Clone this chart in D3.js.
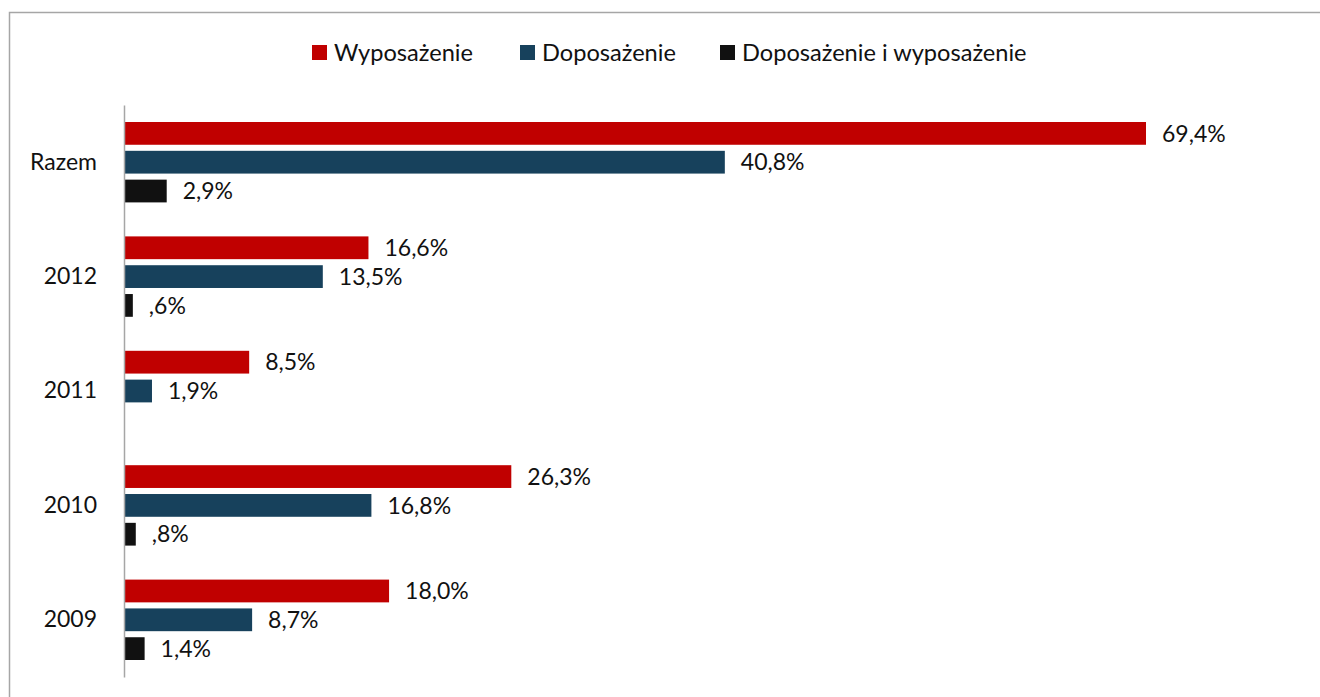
<!DOCTYPE html>
<html><head><meta charset="utf-8">
<script src="https://cdn.jsdelivr.net/npm/d3@7"></script>
<style>body{margin:0;background:#fff}svg{display:block}text{font-family:Lato,"Open Sans",sans-serif}</style>
</head><body><svg id="c" width="1320" height="697"></svg>
<script>
const categories = ["Razem","2012","2011","2010","2009"];
const seriesNames = ["Wyposażenie","Doposażenie","Doposażenie i wyposażenie"];
const wyposazenie = [69.4,16.6,8.5,26.3,18.0];
const doposazenie = [40.8,13.5,1.9,16.8,8.7];
const obie = [2.9,0.6,null,0.8,1.4];
const colors = ["#C00000","#17415C","#111111"];
const seriesValues = [wyposazenie, doposazenie, obie];
const FS = 23;

const svg = d3.select("#c");
svg.append("rect").attr("x",9.5).attr("y",12.5).attr("width",1400).attr("height",800)
  .attr("fill","none").attr("stroke","#a6a6a6").attr("stroke-width",1.5);

const x = d3.scaleLinear().domain([0,80]).range([124,124+80*1022/69.4]);
const y0 = d3.scaleBand().domain(categories).range([105,677]);
const y1 = d3.scaleBand().domain(seriesNames).range([17,97.4]).paddingInner(0.21);

const fmt = v => d3.format(".1f")(v).replace(".",",").replace(/^0/,"") + "%";

const g = svg.append("g");
categories.forEach((c,i)=>{
  const gg = g.append("g").attr("transform",`translate(0,${y0(c)})`);
  seriesNames.forEach((s,j)=>{
    const v = seriesValues[j][i];
    if (v==null) return;
    gg.append("rect").attr("x",x(0)).attr("y",y1(s)).attr("width",x(v)-x(0)).attr("height",y1.bandwidth())
      .attr("fill",colors[j]);
    gg.append("text").attr("x",x(v)+16).attr("y",y1(s)+y1.bandwidth()/2).attr("dy","0.36em")
      .attr("font-size",FS).attr("fill","#111").text(fmt(v));
  });
});

// axis
const ax = d3.axisLeft(y0).tickSize(0).tickPadding(27);
const axg = svg.append("g").attr("transform",`translate(${x(0)},0)`).call(ax);
axg.select(".domain").attr("stroke","#a6a6a6").attr("stroke-width",1.5);
axg.selectAll("text").attr("font-size",FS).attr("fill","#111").attr("font-family","Lato,'Open Sans',sans-serif");

// legend
const legX = [312,520,720];
const leg = svg.append("g");
seriesNames.forEach((s,j)=>{
  leg.append("rect").attr("x",legX[j]).attr("y",45).attr("width",15).attr("height",15).attr("fill",colors[j]);
  leg.append("text").attr("x",legX[j]+22).attr("y",53).attr("dy","0.36em").attr("font-size",23.6).attr("fill","#111").text(s);
});
</script></body></html>
